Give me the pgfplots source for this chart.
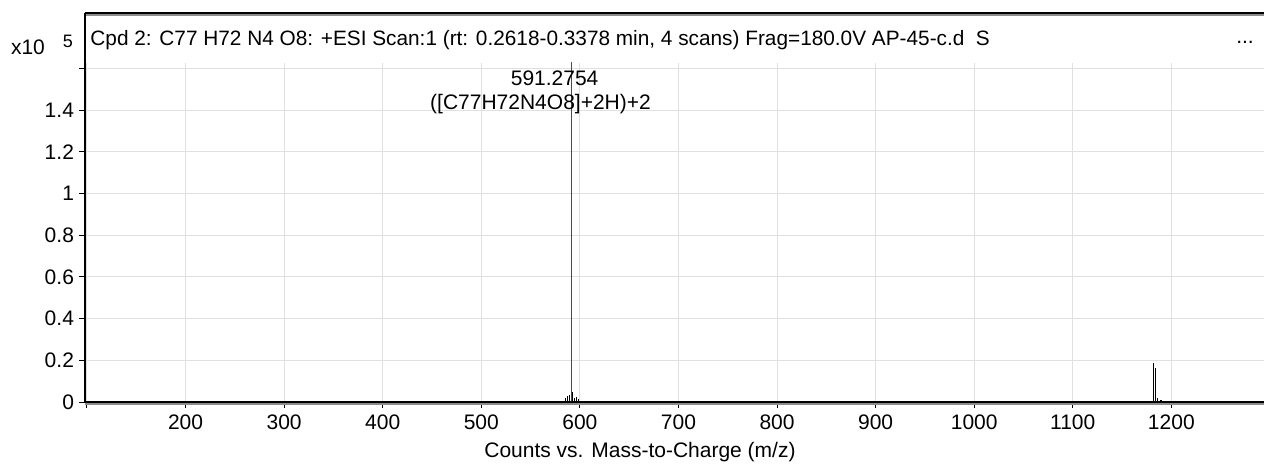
\documentclass[border=0pt]{standalone}
\usepackage{pgfplots}
\pgfplotsset{compat=1.18}
\usepackage{fontspec}
\setmainfont{Liberation Sans}
\begin{document}
\begin{tikzpicture}
\useasboundingbox (-42.5pt,-32pt) rectangle (589.5pt,201pt);
\begin{axis}[
  scale only axis, width=589.5pt, height=169.65pt,
  at={(0,0)}, anchor=south west,
  xmin=98, xmax=1294, ymin=0, ymax=1.627,
  axis x line*=bottom, axis y line*=left,
  axis line style={draw=none},
  xtick={100,200,300,400,500,600,700,800,900,1000,1100,1200},
  xticklabels={,200,300,400,500,600,700,800,900,1000,1100,1200},
  ytick={0,0.2,0.4,0.6,0.8,1,1.2,1.4,1.6},
  yticklabels={0,0.2,0.4,0.6,0.8,1,1.2,1.4,},
  grid=major, grid style={black!12, line width=0.5pt},
  tick style={black, line width=0.5pt}, tick align=outside, major tick length=3pt,
  ticklabel style={font=\fontsize{10.5}{12}\selectfont},
  yticklabel style={xshift=1pt},
  /pgf/number format/assume math mode=true,
  xlabel={Counts vs. Mass-to-Charge (m/z)},
  xlabel style={font=\fontsize{10.5}{12}\selectfont, at={(axis description cs:0.4707,0)}, anchor=center, yshift=-25pt},
]
\addplot[ycomb, black!70, line width=0.55pt, mark=none] coordinates {
 (591.28,1.70)
};
\addplot[ycomb, black, line width=0.45pt, mark=none] coordinates {
 (585.8,0.020) (587.5,0.030) (589.2,0.035) (592.3,0.050) (594.6,0.020) (597.0,0.025) (598.7,0.015)
 (1178.4,0.005) (1182.1,0.186) (1183.6,0.162) (1185.6,0.018) (1188.6,0.008) (1190.3,0.008)
};
\node[font=\fontsize{10.5}{12}\selectfont] at (axis cs:574.4,1.554) {591.2754};
\node[font=\fontsize{10.5}{12}\selectfont] at (axis cs:560.1,1.429) {([C77H72N4O8]+2H)+2};
\end{axis}
% frame
\draw[black!45, line width=0.8pt] (0,193.6pt) -- (589.5pt,193.6pt);
\draw[black, line width=1pt] (0,194.5pt) -- (589.5pt,194.5pt);
\draw[black, line width=0.9pt] (0,0) -- (0,194.5pt);
\draw[black!45, line width=1pt] (0,-1pt) -- (589.5pt,-1pt);
\draw[black, line width=1pt] (0,0) -- (589.5pt,0);
% title and scale
\node[anchor=west, font=\fontsize{10.4}{12}\selectfont] at (-0.8pt,181pt) {Cpd 2: C77 H72 N4 O8: +ESI Scan:1 (rt: 0.2618-0.3378 min, 4 scans) Frag=180.0V AP-45-c.d\ \ S};
\node[anchor=base, font=\fontsize{10.5}{12}\selectfont] at (580pt,179pt) {...};
\node[font=\fontsize{10.5}{12}\selectfont] at (-28.5pt,177.5pt) {x10};
\node[font=\fontsize{9}{10}\selectfont] at (-8.5pt,180.5pt) {5};
\end{tikzpicture}
\end{document}
